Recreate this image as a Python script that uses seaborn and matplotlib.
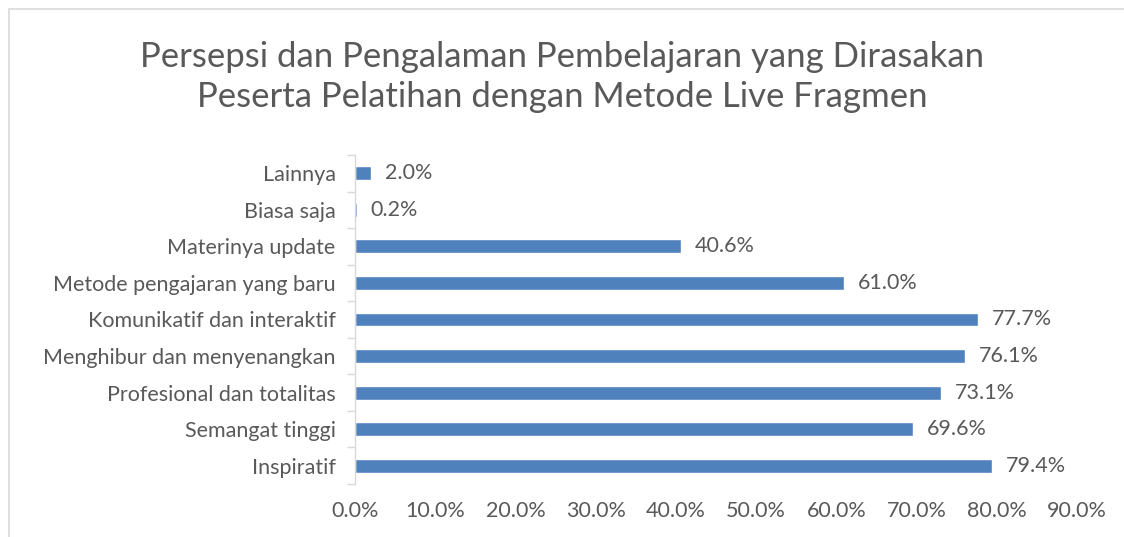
import pandas as pd
import seaborn as sns
import matplotlib.pyplot as plt
from matplotlib.ticker import PercentFormatter, FixedLocator

categories = ["Lainnya", "Biasa saja", "Materinya update", "Metode pengajaran yang baru",
              "Komunikatif dan interaktif", "Menghibur dan menyenangkan",
              "Profesional dan totalitas", "Semangat tinggi", "Inspiratif"]
values = [2.0, 0.2, 40.6, 61.0, 77.7, 76.1, 73.1, 69.6, 79.4]
x_ticks = [0, 10, 20, 30, 40, 50, 60, 70, 80, 90]

df = pd.DataFrame({"kategori": categories, "persen": values})

sns.set_theme(style="white")
plt.rcParams['font.family'] = ['Lato', 'DejaVu Sans']
grey = "#595959"

fig = plt.figure(figsize=(11.24, 5.37), dpi=100)
ax = fig.add_axes([0.3158, 0.0987, 0.6423, 0.6127])

sns.barplot(data=df, y="kategori", x="persen", color="#4F81BD", width=0.38,
            saturation=1, ax=ax, orient="h")

for i, v in enumerate(values):
    ax.text(v + 1.7, i, f"{v:.1f}%", va="center", ha="left", fontsize=15.5, color=grey)

ax.set_xlim(0, 90)
ax.set_ylim(len(categories) - 0.5, -0.5)
ax.set_xticks(x_ticks)
ax.xaxis.set_major_formatter(PercentFormatter(decimals=1))
ax.set_xlabel("")
ax.set_ylabel("")
ax.tick_params(axis="x", length=0, labelsize=15.5, labelcolor=grey, pad=12)
ax.tick_params(axis="y", which="major", length=0, labelsize=15.5, labelcolor=grey, pad=14)
ax.yaxis.set_minor_locator(FixedLocator([i - 0.5 for i in range(len(categories) + 1)]))
ax.tick_params(axis="y", which="minor", left=True, length=6, color="#D9D9D9", width=1)

for s in ["top", "right", "bottom"]:
    ax.spines[s].set_visible(False)
ax.spines["left"].set_color("#D9D9D9")
ax.spines["left"].set_linewidth(1)

fig.text(0.5, 0.857, "Persepsi dan Pengalaman Pembelajaran yang Dirasakan\nPeserta Pelatihan dengan Metode Live Fragmen",
         ha="center", va="center", fontsize=25, color=grey, linespacing=1.3)

# chart border (cropped on right and bottom)
border = plt.Rectangle((9 / 1124, -0.1), 1.2, 1 - 9 / 537 + 0.1, transform=fig.transFigure,
                       fill=False, edgecolor="#D9D9D9", linewidth=1.2)
fig.patches.append(border)

fig.savefig("out.png", dpi=100, facecolor="white")
